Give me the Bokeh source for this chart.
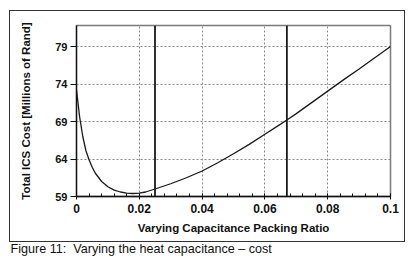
import numpy as np
from bokeh.plotting import figure
from bokeh.models import Range1d, FixedTicker, Span, Title, InlineStyleSheet
from bokeh.embed import file_html
from bokeh.resources import INLINE

# ---- data ----
packing_ratio = [0.000, 0.001, 0.002, 0.003, 0.004, 0.005, 0.006, 0.008, 0.010,
                 0.012, 0.014, 0.016, 0.018, 0.020, 0.022, 0.025, 0.030, 0.035,
                 0.040, 0.045, 0.050, 0.055, 0.060, 0.065, 0.067, 0.070, 0.075,
                 0.080, 0.085, 0.090, 0.095, 0.100]
total_cost = [73.2, 69.6, 67.0, 65.1, 63.9, 62.9, 62.1, 61.0, 60.3,
              59.85, 59.6, 59.45, 59.4, 59.45, 59.6, 60.0, 60.7, 61.5,
              62.4, 63.5, 64.7, 65.95, 67.3, 68.65, 69.2, 70.05, 71.55,
              73.05, 74.55, 76.0, 77.5, 79.0]
marker_ratios = [0.025, 0.067]

x_ticks = [0.0, 0.02, 0.04, 0.06, 0.08, 0.1]
x_tick_labels = ["0", "0.02", "0.04", "0.06", "0.08", "0.1"]
y_ticks = [59, 64, 69, 74, 79]
y_tick_labels = ["59", "64", "69", "74", "79"]

x_title = "Varying Capacitance Packing Ratio"
y_title = "Total ICS Cost [Millions of Rand]"
caption = "Figure 11:\u00a0 Varying the heat capacitance \u2013 cost"

FONT = "Liberation Sans"

p = figure(width=413, height=262, output_backend="svg", toolbar_location=None,
           x_range=Range1d(0, 0.1), y_range=Range1d(59, 81.8),
           min_border_left=76, min_border_right=23, min_border_top=25,
           min_border_bottom=66)
p.background_fill_color = "white"
p.border_fill_color = "white"
p.outline_line_color = "#7a7a7a"
p.outline_line_width = 1.5

# curve
p.line(packing_ratio, total_cost, line_color="#1a1a1a", line_width=1.3)

# vertical markers
for m in marker_ratios:
    p.add_layout(Span(location=m, dimension="height", line_color="#1a1a1a",
                      line_width=1.8))

# axes
xa = p.xaxis[0]
minor = list(np.linspace(x_ticks[0], x_ticks[-1], 26))
xa.ticker = FixedTicker(ticks=x_ticks, minor_ticks=minor)
xa.major_label_overrides = {t: l for t, l in zip(x_ticks, x_tick_labels)}
xa.major_tick_in = 3
xa.major_tick_out = 3
xa.minor_tick_in = 3
xa.minor_tick_out = 0
xa.major_label_standoff = 4
xa.axis_label = x_title
xa.axis_label_standoff = 6
ya = p.yaxis[0]
ya.ticker = FixedTicker(ticks=y_ticks, minor_ticks=[])
ya.major_label_overrides = {t: l for t, l in zip(y_ticks, y_tick_labels)}
ya.major_tick_in = 0
ya.major_tick_out = 6
ya.major_label_standoff = 3
ya.axis_label = y_title
ya.axis_label_standoff = 20

for ax in (xa, ya):
    ax.axis_line_color = "#111111"
    ax.axis_line_width = 1.3
    ax.major_tick_line_color = "#111111"
    ax.minor_tick_line_color = "#111111"
    ax.major_label_text_font = FONT
    ax.major_label_text_font_style = "bold"
    ax.major_label_text_color = "#111111"
    ax.axis_label_text_font = FONT
    ax.axis_label_text_font_style = "bold"
    ax.axis_label_text_font_size = "11.5px"
    ax.axis_label_text_color = "#111111"
xa.major_label_text_font_size = "12px"
ya.major_label_text_font_size = "11px"

# grid
for g in (p.xgrid[0], p.ygrid[0]):
    g.grid_line_color = "#8a8a8a"
    g.grid_line_dash = "2 2"
    g.grid_line_width = 1

# caption below the chart box
p.add_layout(Title(text=caption, align="left", offset=-66, standoff=6,
                   text_font=FONT, text_font_size="12.6px",
                   text_font_style="normal", text_color="#111111"), "below")

# outer frame box around the chart (drawn with CSS over the canvas)
p.stylesheets = [InlineStyleSheet(css="""
:host { position: relative; }
:host::after {
  content: ""; position: absolute; left: 9px; top: 10px;
  width: 396px; height: 232px; border: 1px solid #333333;
  pointer-events: none; box-sizing: border-box;
}
""")]

open("out.html", "w").write(file_html(p, INLINE))
